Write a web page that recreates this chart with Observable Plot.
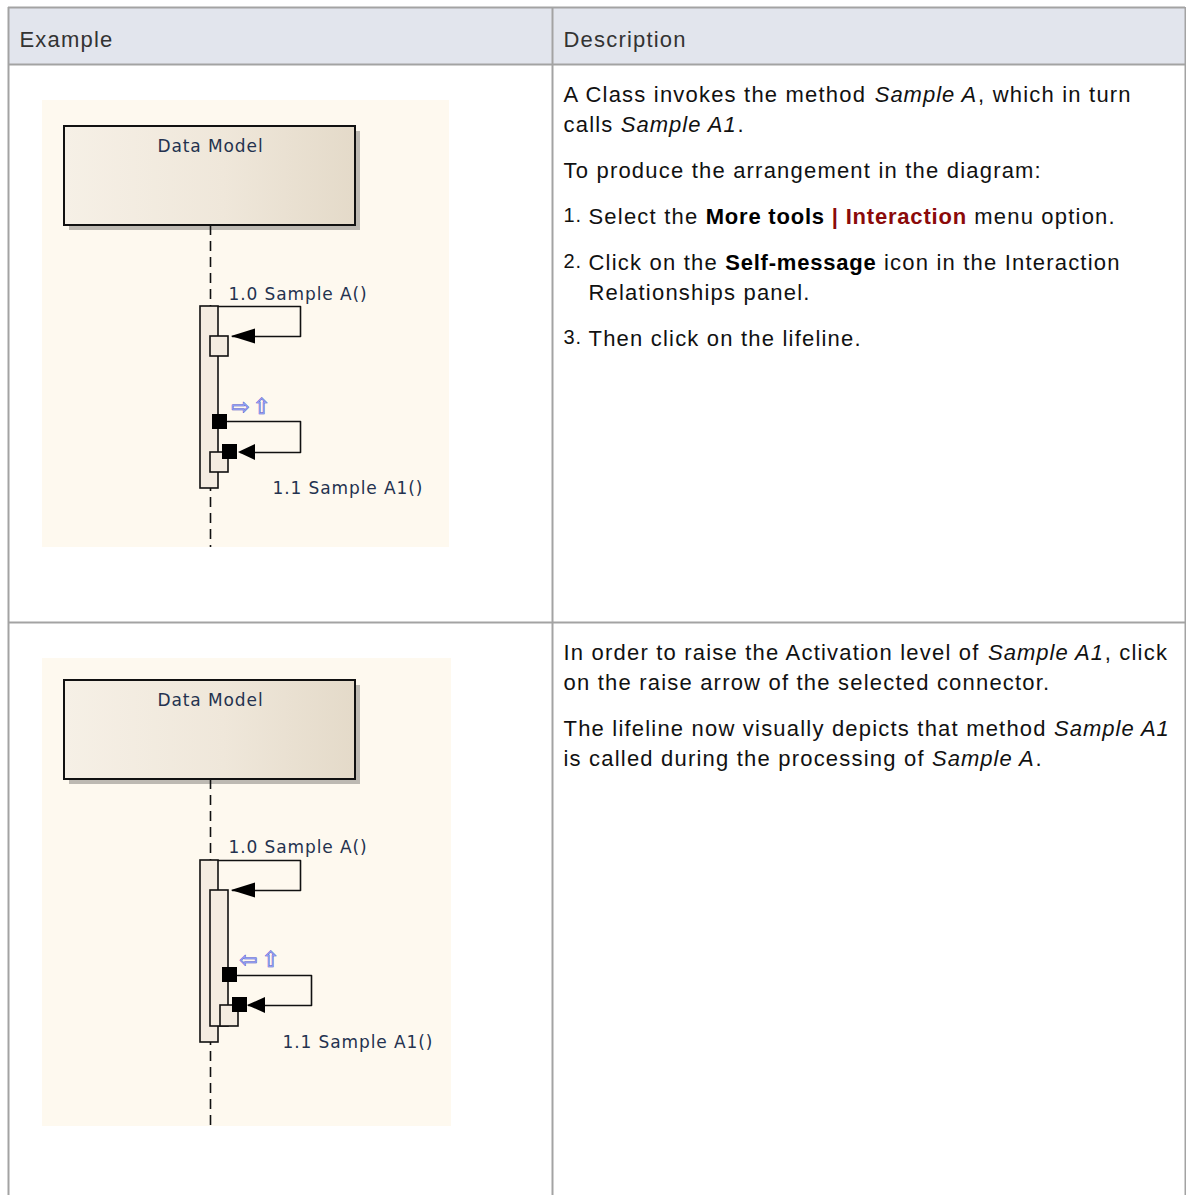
<!DOCTYPE html>
<html>
<head>
<meta charset="utf-8">
<script src="https://cdn.jsdelivr.net/npm/d3@7"></script>
<script src="https://cdn.jsdelivr.net/npm/@observablehq/plot@0.6"></script>
<style>
  html, body { margin: 0; padding: 0; background: #ffffff; }
  #chart svg { display: block; }
</style>
</head>
<body>
<div id="chart"></div>
<script>
// ---------------- content ----------------
const headerTexts = ["Example", "Description"];
const boxTitle = "Data Model";
const messageNames = ["1.0 Sample A()", "1.1 Sample A1()", "1.0 Sample A()", "1.1 Sample A1()"];
const iconGlyphs = ["⇨", "⇧", "⇦", "⇧"];
const stepNumbers = ["1.", "2.", "3."];

// description runs: n = normal, i = italic, b = bold, r = bold dark red
const row1Lines = [
  {runs: [["A Class invokes the method ", "n"], ["Sample A", "i"], [", which in turn", "n"]]},
  {runs: [["calls ", "n"], ["Sample A1", "i"], [".", "n"]]},
  {runs: [["To produce the arrangement in the diagram:", "n"]]},
  {num: 0, runs: [["Select the ", "n"], ["More tools", "b"], [" | Interaction", "r"], [" menu option.", "n"]]},
  {num: 1, runs: [["Click on the ", "n"], ["Self-message", "b"], [" icon in the Interaction", "n"]]},
  {indent: true, runs: [["Relationships panel.", "n"]]},
  {num: 2, runs: [["Then click on the lifeline.", "n"]]}
];
const row2Lines = [
  {runs: [["In order to raise the Activation level of ", "n"], ["Sample A1", "i"], [", click", "n"]]},
  {runs: [["on the raise arrow of the selected connector.", "n"]]},
  {runs: [["The lifeline now visually depicts that method ", "n"], ["Sample A1", "i"]]},
  {runs: [["is called during the processing of ", "n"], ["Sample A", "i"], [".", "n"]]}
];

// ---------------- geometry (pixel units of the page) ----------------
const row1Baselines = [101, 131, 177, 223, 269, 299, 345];
const row2Baselines = [659, 689, 735, 765];
const hRules = [{y: 7}, {y: 64}, {y: 622}];
const vRules = [{x: 8}, {x: 552}, {x: 1185}];
const headerCells = [{x1: 8, x2: 1185, y1: 7, y2: 64}];
const headerPos = [{x: 19, y: 46}, {x: 563, y: 46}];
const panels = [{x1: 42, x2: 449, y1: 100, y2: 547}, {x1: 42, x2: 451, y1: 658, y2: 1126}];
const boxes = [{x1: 64, x2: 355, y1: 126, y2: 225}, {x1: 64, x2: 355, y1: 680, y2: 779}];
const boxTitlePos = [{x: 210, y: 151}, {x: 210, y: 705}];
const lifelines = [{x: 210, y1: 225, y2: 547}, {x: 210, y1: 779, y2: 1126}];
const activations = [
  {x1: 200, x2: 218, y1: 306, y2: 488},
  {x1: 200, x2: 218, y1: 860, y2: 1042},
  {x1: 210, x2: 228, y1: 890, y2: 1026}
];
const returnBoxes = [
  {x1: 210, x2: 228, y1: 336, y2: 356},
  {x1: 210, x2: 228, y1: 452, y2: 472},
  {x1: 220, x2: 238, y1: 1005, y2: 1026}
];
const loopA1X = [218, 300, 300, 232], loopA1Y = [306, 306, 336, 336];
const loopA2X = [227, 300, 300, 240], loopA2Y = [421, 421, 452, 452];
const loopB1X = [218, 300, 300, 232], loopB1Y = [860, 860, 890, 890];
const loopB2X = [237, 311, 311, 248], loopB2Y = [975, 975, 1005, 1005];
const arrowTipX = [231, 238, 231, 247];
const arrowBaseX = [255, 255, 255, 265];
const arrowY = [336, 452, 890, 1005];
const arrowHalf = [7.5, 8, 7.5, 8];
const blackSquares = [
  {x1: 212, x2: 227, y1: 414, y2: 429},
  {x1: 222, x2: 237, y1: 444, y2: 459},
  {x1: 222, x2: 237, y1: 967, y2: 982},
  {x1: 232, x2: 247, y1: 997, y2: 1012}
];
const messagePos = [{x: 228, y: 299}, {x: 272, y: 493}, {x: 228, y: 852}, {x: 282, y: 1047}];
const iconPos = [{x: 240, y: 406}, {x: 261, y: 406}, {x: 248, y: 959}, {x: 270, y: 959}];

// ---------------- build tables for the marks ----------------
const BODY_FONT = "Liberation Sans";
const BODY_SIZE = 22;
const LS = {n: 1.2, i: 1.0, b: 0.8, r: 0.8, header: 1.2, num: 1.0};
const LABEL_FONT = "DejaVu Sans";
const LABEL_SIZE = 17;
const LABEL_LS = 0.9;
const TEXT_X = 563, INDENT_X = 588;

const ctx = document.createElement("canvas").getContext("2d");
function measure(text, style) {
  const it = style === "i" ? "italic " : "";
  const bd = (style === "b" || style === "r") ? "bold " : "";
  ctx.font = `${it}${bd}${BODY_SIZE}px "${BODY_FONT}"`;
  return ctx.measureText(text).width + LS[style] * text.length;
}

const runs = [];
const nums = [];
function layout(lines, baselines) {
  lines.forEach((line, i) => {
    const y = baselines[i];
    let x = (line.num !== undefined || line.indent) ? INDENT_X : TEXT_X;
    if (line.num !== undefined) nums.push({x: TEXT_X, y: y - 2, text: stepNumbers[line.num]});
    for (const [text, style] of line.runs) {
      const trimmed = text.trimStart();
      const lead = text.slice(0, text.length - trimmed.length);
      if (lead) x += measure(lead, style);
      runs.push({x, y, text: trimmed.trimEnd(), style});
      x += measure(trimmed, style);
    }
  });
}
layout(row1Lines, row1Baselines);
layout(row2Lines, row2Baselines);

const headers = headerTexts.map((t, i) => ({...headerPos[i], text: t}));
const titles = boxTitlePos.map(p => ({...p, text: boxTitle}));
const messages = messageNames.map((t, i) => ({...messagePos[i], text: t}));
const icons = iconGlyphs.map((t, i) => ({...iconPos[i], text: t}));

const loops = [];
[[loopA1X, loopA1Y], [loopA2X, loopA2Y], [loopB1X, loopB1Y], [loopB2X, loopB2Y]].forEach(([xs, ys], k) => {
  xs.forEach((x, j) => loops.push({id: k, x, y: ys[j]}));
});
const arrows = [];
arrowTipX.forEach((tx, k) => {
  arrows.push({id: k, x: tx, y1: arrowY[k], y2: arrowY[k]});
  arrows.push({id: k, x: arrowBaseX[k], y1: arrowY[k] - arrowHalf[k], y2: arrowY[k] + arrowHalf[k]});
});
const shadows = boxes.map(b => ({x1: b.x1 + 5, x2: b.x2 + 5, y1: b.y1 + 5, y2: b.y2 + 5}));

const bodyText = (style, opts) => Plot.text(runs.filter(d => d.style === style), {
  x: "x", y: "y", text: "text", textAnchor: "start", lineAnchor: "bottom",
  fontFamily: BODY_FONT, fontSize: BODY_SIZE, ariaDescription: "desc-" + style, ...opts
});

const chart = Plot.plot({
  width: 1186,
  height: 1195,
  margin: 0,
  x: {domain: [0, 1186], range: [0, 1186], axis: null},
  y: {domain: [0, 1195], range: [0, 1195], axis: null},
  style: {background: "#ffffff"},
  marks: [
    Plot.rect(headerCells, {x1: "x1", x2: "x2", y1: "y1", y2: "y2", fill: "#e2e5ed"}),
    Plot.rect(panels, {x1: "x1", x2: "x2", y1: "y1", y2: "y2", fill: "#fef9ef"}),
    Plot.rect(shadows, {x1: "x1", x2: "x2", y1: "y1", y2: "y2", fill: "#bdb9b2"}),
    Plot.rect(boxes, {x1: "x1", x2: "x2", y1: "y1", y2: "y2", fill: "url(#boxgrad)", stroke: "#111", strokeWidth: 2}),
    Plot.ruleX(lifelines, {x: "x", y1: "y1", y2: "y2", stroke: "#111", strokeWidth: 1.6, strokeDasharray: "10,6"}),
    Plot.rect(activations, {x1: "x1", x2: "x2", y1: "y1", y2: "y2", fill: "#f4ece1", stroke: "#111", strokeWidth: 1.6}),
    Plot.rect(returnBoxes, {x1: "x1", x2: "x2", y1: "y1", y2: "y2", fill: "#f4ece1", stroke: "#111", strokeWidth: 1.6}),
    Plot.line(loops, {x: "x", y: "y", z: "id", stroke: "#111", strokeWidth: 1.6, curve: "linear"}),
    Plot.areaY(arrows, {x: "x", y1: "y1", y2: "y2", z: "id", fill: "#000", curve: "linear"}),
    Plot.rect(blackSquares, {x1: "x1", x2: "x2", y1: "y1", y2: "y2", fill: "#000"}),
    Plot.text(titles, {x: "x", y: "y", text: "text", textAnchor: "middle", lineAnchor: "bottom",
      fontFamily: LABEL_FONT, fontSize: LABEL_SIZE, fill: "#24324f", ariaDescription: "label-title"}),
    Plot.text(messages, {x: "x", y: "y", text: "text", textAnchor: "start", lineAnchor: "bottom",
      fontFamily: LABEL_FONT, fontSize: LABEL_SIZE, fill: "#24324f", ariaDescription: "label-msg"}),
    Plot.text(icons, {x: "x", y: "y", text: "text", textAnchor: "middle", lineAnchor: "middle",
      fontFamily: "DejaVu Sans", fontSize: 22, fill: "#8f9ef2", stroke: "#3c3cc0", strokeWidth: 0.6}),
    Plot.ruleY(hRules, {y: "y", x1: 8, x2: 1185, stroke: "#a3a3a3", strokeWidth: 2}),
    Plot.ruleX(vRules, {x: "x", y1: 7, y2: 1195, stroke: "#a3a3a3", strokeWidth: 2}),
    Plot.text(headers, {x: "x", y: "y", text: "text", textAnchor: "start", lineAnchor: "bottom",
      fontFamily: BODY_FONT, fontSize: BODY_SIZE, fill: "#333333", ariaDescription: "desc-header"}),
    Plot.text(nums, {x: "x", y: "y", text: "text", textAnchor: "start", lineAnchor: "bottom",
      fontFamily: BODY_FONT, fontSize: 20, fill: "#111", ariaDescription: "desc-num"}),
    bodyText("n", {fill: "#111"}),
    bodyText("i", {fill: "#111", fontStyle: "italic"}),
    bodyText("b", {fill: "#000", fontWeight: "bold"}),
    bodyText("r", {fill: "#8b0a0a", fontWeight: "bold"})
  ]
});

// gradient for the lifeline head box, letter spacing per text group
const svg = d3.select(chart);
const defs = svg.insert("defs", ":first-child");
const grad = defs.append("linearGradient").attr("id", "boxgrad").attr("x1", "0").attr("x2", "1").attr("y1", "0").attr("y2", "0");
grad.append("stop").attr("offset", "0%").attr("stop-color", "#f6f0e6");
grad.append("stop").attr("offset", "55%").attr("stop-color", "#efe7da");
grad.append("stop").attr("offset", "100%").attr("stop-color", "#e4dac9");
svg.selectAll("g").each(function() {
  const desc = this.getAttribute("aria-description") || "";
  if (desc.startsWith("desc-")) {
    const key = desc.slice(5);
    d3.select(this).selectAll("text").style("letter-spacing", LS[key] + "px");
  } else if (desc.startsWith("label-")) {
    d3.select(this).selectAll("text").style("letter-spacing", LABEL_LS + "px");
  }
});

document.getElementById("chart").appendChild(chart);
</script>
</body>
</html>
